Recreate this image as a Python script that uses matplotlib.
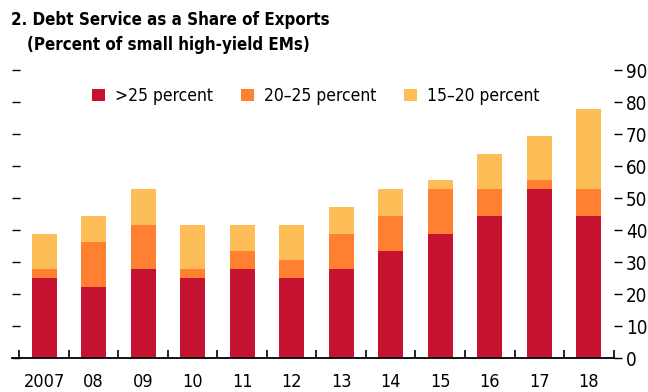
import numpy as np
import matplotlib
matplotlib.use("Agg")
import matplotlib.pyplot as plt

plt.rcParams['font.family'] = ['DejaVu Sans']
plt.rcParams['font.stretch'] = 'condensed'

years = ['2007', '08', '09', '10', '11', '12', '13', '14', '15', '16', '17', '18']
# share of small high-yield EMs by debt-service bucket (percent)
above25 = [25.0, 22.2, 27.8, 25.0, 27.8, 25.0, 27.8, 33.3, 38.9, 44.4, 52.8, 44.4]
from20to25 = [2.8, 13.9, 13.9, 2.8, 5.6, 5.6, 11.1, 11.1, 13.9, 8.3, 2.8, 8.3]
from15to20 = [11.1, 8.3, 11.1, 13.9, 8.3, 11.1, 8.3, 8.3, 2.8, 11.1, 13.9, 25.0]
labels = ['>25 percent', '20\u201325 percent', '15\u201320 percent']
colors = ['#C41230', '#FF8030', '#FDBD57']

fig = plt.figure(figsize=(6.48, 3.92), dpi=100)
ax = fig.add_axes([0.0185, 0.0867, 0.9283, 0.7347])

x = np.arange(len(years))
a = np.array(above25)
b = np.array(from20to25)
c = np.array(from15to20)
w = 0.5
ax.bar(x, a, w, color=colors[0], label=labels[0])
ax.bar(x, b, w, bottom=a, color=colors[1], label=labels[1])
ax.bar(x, c, w, bottom=a + b, color=colors[2], label=labels[2])

ax.set_xlim(-0.65, 11.5)
ax.set_ylim(0, 90)

for s in ['top', 'left', 'right']:
    ax.spines[s].set_visible(False)
ax.spines['bottom'].set_linewidth(1.3)

# year labels centred on bars, tick marks between bars
ax.set_xticks(x)
ax.set_xticklabels(years, fontsize=13)
ax.tick_params(axis='x', which='major', length=0, pad=11)
ax.set_xticks(np.arange(-0.5, 11.6, 1), minor=True)
ax.tick_params(axis='x', which='minor', direction='in', length=6, width=1.2)

yt = np.arange(0, 91, 10)
ax.set_yticks(yt)
ax.tick_params(axis='y', which='major', left=True, right=True, labelleft=False,
               labelright=True, length=6, width=1, labelsize=13.5, pad=3)
ax.tick_params(axis='y', which='major', direction='out')
for t in ax.yaxis.get_ticklines()[0::2]:
    t.set_marker(1)  # left ticks point into the plot

leg = ax.legend(loc='center', bbox_to_anchor=(0.505, 0.91), ncol=3, frameon=False,
                fontsize=12.5, handlelength=0.75, handleheight=0.75, handletextpad=0.57,
                columnspacing=1.6, borderpad=0, borderaxespad=0)

fig.text(0.017, 0.949, '2. Debt Service as a Share of Exports', fontsize=12.2,
         fontweight='bold', va='center')
fig.text(0.042, 0.885, '(Percent of small high-yield EMs)', fontsize=12.2,
         fontweight='bold', va='center')

fig.savefig('out.png', dpi=100)
